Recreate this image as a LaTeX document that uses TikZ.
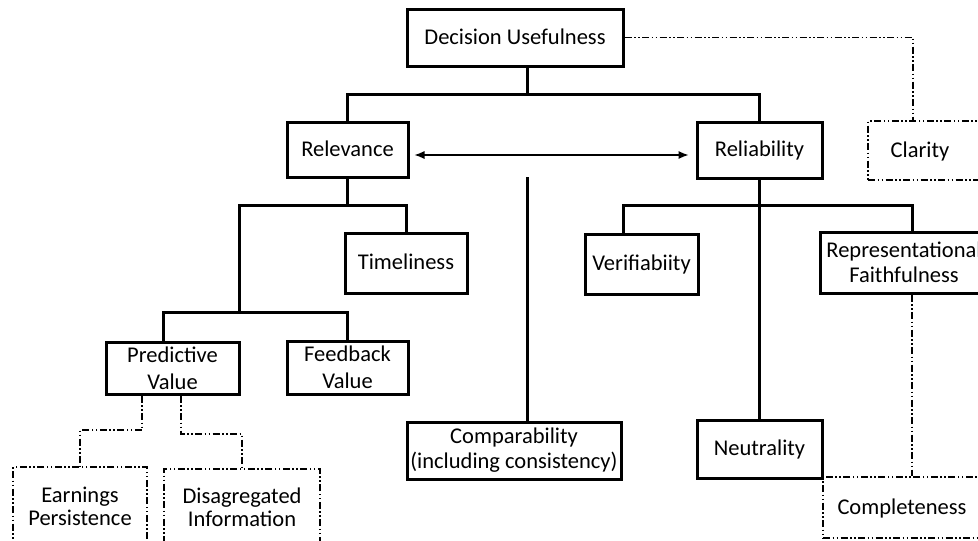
\documentclass[tikz,border=0pt]{standalone}
\usepackage{fontspec}
\setmainfont{Carlito}
\usetikzlibrary{arrows.meta}
\begin{document}
\begin{tikzpicture}[x=1pt,y=-1pt,
  txt/.style={font=\fontsize{22.5}{25}\selectfont},
  oneline/.style={text height=13pt, text depth=0pt},
  solidbox/.style={draw, line width=3pt, inner sep=0pt, align=center, txt},
  dotbox/.style={draw, line width=1.3pt, inner sep=0pt, align=center, txt, dd},
  dd/.style={dash pattern=on 7pt off 2.5pt on 1.5pt off 2.5pt on 1.5pt off 2.5pt},
  link/.style={line width=3pt},
  softlink/.style={line width=1.4pt, dd},
  biarrow/.style={line width=1.1pt, {Latex[length=10pt,width=8pt]}-{Latex[length=10pt,width=8pt]}}
]
\useasboundingbox (0,0) rectangle (978,541);
\clip (0,0) rectangle (978,541);

% top level
\node[solidbox, oneline, minimum width=216pt, minimum height=57pt] (du) at (515,37.5) {Decision Usefulness};

% second level
\node[solidbox, oneline, minimum width=121pt, minimum height=55pt] (rel) at (347.5,149.5) {Relevance};
\node[solidbox, oneline, minimum width=125pt, minimum height=56pt] (rb) at (759.5,150) {Reliability};
\node[dotbox, oneline, minimum width=117pt, minimum height=59pt] (cla) at (926.5,150.5) {Clarity\hspace*{13pt}};

% third level
\node[solidbox, oneline, minimum width=122pt, minimum height=60pt] (tim) at (406,263) {Timeliness};
\node[solidbox, oneline, minimum width=113pt, minimum height=60pt] (ver) at (641.5,264) {Verifiabiity};
\node[solidbox, minimum width=168pt, minimum height=61pt] (rf) at (904,262.5) {Representational\\Faithfulness};

% fourth level
\node[solidbox, minimum width=133pt, minimum height=52pt, font=\fontsize{22.5}{27}\selectfont] (pv) at (172.5,368) {Predictive\\Value};
\node[solidbox, minimum width=121pt, minimum height=53pt, font=\fontsize{22.5}{27}\selectfont] (fv) at (347.5,367.5) {Feedback\\Value};
\node[solidbox, minimum width=214pt, minimum height=57pt] (cmp) at (514,450.5) {Comparability\\(including consistency)};
\node[solidbox, oneline, minimum width=125pt, minimum height=58pt] (neu) at (759.5,449) {Neutrality};

% dash-dotted leaves
\node[dotbox, minimum width=134pt, minimum height=78pt, font=\fontsize{22.5}{23}\selectfont] (ep) at (80,506) {Earnings\\Persistence};
\node[dotbox, minimum width=156pt, minimum height=76pt, font=\fontsize{22.5}{23}\selectfont] (di) at (242,507) {Disagregated\\Information};
\node[dotbox, oneline, minimum width=158pt, minimum height=61pt] (com) at (902,507.5) {Completeness};

% junction points
\coordinate (j1) at (527,94);
\coordinate (j2) at (239,205);
\coordinate (j3) at (239,312);
\coordinate (j4) at (163,312);
\coordinate (j5) at (623,205);
\coordinate (j6) at (912,205);
\coordinate (c0) at (527,177);
\coordinate (k1) at (913,38);
\coordinate (k2) at (142,430);
\coordinate (k3) at (181,434);

% solid tree
\draw[link] (du.south -| j1) -- (j1);
\draw[link] (rel.north) |- (j1) -| (rb.north);
\draw[link] (rel.south) -- (rel.south |- j2);
\draw[link] (j3) -- (j2) -| (tim.north);
\draw[link] (j4 |- pv.north) -- (j4) -| (fv.north);
\draw[link] (c0) -- (c0 |- cmp.north);
\draw[link] (rb.south) -- (neu.north);
\draw[link] (j5 |- ver.north) -- (j5) -- (j6) -- (j6 |- rf.north);

% two-way arrow
\draw[biarrow] ([xshift=5pt,yshift=-5.5pt]rel.east) -- ([xshift=-7pt,yshift=-5pt]rb.west);

% dash-dotted links
\draw[softlink] (du.east) -| (cla.north -| k1);
\draw[softlink] (rf.south -| j6) -- (com.north -| j6);
\draw[softlink] (pv.south -| k2) -- (k2) -| (ep.north);
\draw[softlink] (pv.south -| k3) -- (k3) -| (di.north);
\end{tikzpicture}
\end{document}
